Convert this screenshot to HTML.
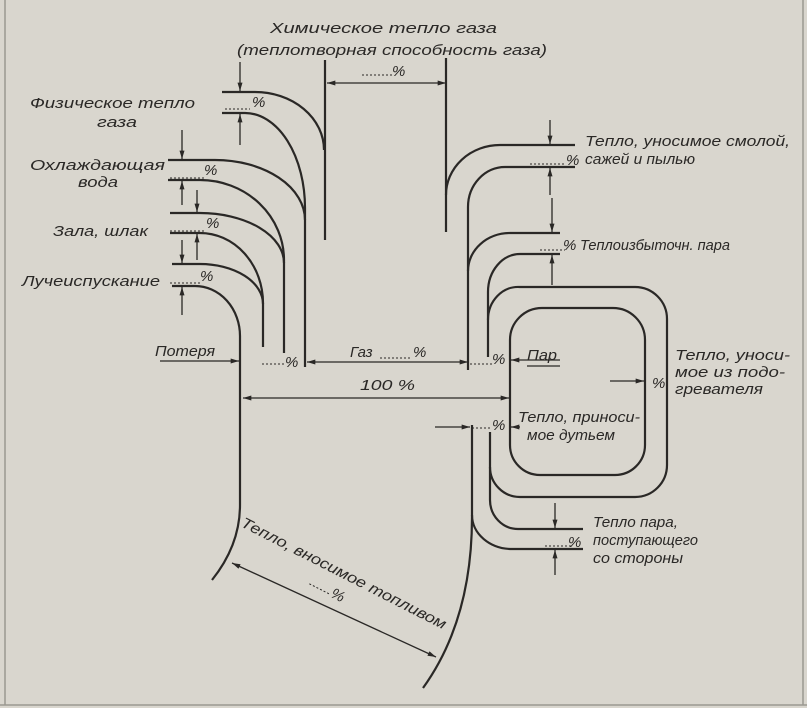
<!DOCTYPE html>
<html><head><meta charset="utf-8"><style>
html,body{margin:0;padding:0;background:#d9d6ce;}
svg{display:block}
text{font-family:"Liberation Sans",sans-serif;font-style:italic;fill:#2a2826;font-size:15px;}
</style></head><body>
<svg width="807" height="708" viewBox="0 0 807 708" xmlns="http://www.w3.org/2000/svg">
<defs>
<marker id="a" viewBox="0 0 10 6" refX="10" refY="3" markerWidth="9" markerHeight="5" orient="auto-start-reverse" markerUnits="userSpaceOnUse"><path d="M0,0 L10,3 L0,6 z" fill="#2a2826"/></marker>
</defs>
<rect width="807" height="708" fill="#d9d6ce"/>
<g stroke="#9a9890" stroke-width="1.5" fill="none">
<line x1="5" y1="0" x2="5" y2="705"/><line x1="803" y1="0" x2="803" y2="705"/><line x1="0" y1="705" x2="807" y2="705"/>
</g>
<g stroke="#2a2826" stroke-width="2.2" fill="none">
<!-- chemical -->
<line x1="325" y1="60" x2="325" y2="240"/>
<line x1="446" y1="58" x2="446" y2="232"/>
<!-- left streams -->
<path d="M222,92 H255 A69,58 0 0 1 324,150"/>
<path d="M222,113 H245 A60,95 0 0 1 305,208 V367"/>
<path d="M168,160 H215 A90,60 0 0 1 305,220"/>
<path d="M168,180 H200 A84,80 0 0 1 284,260 V353"/>
<path d="M170,213 H200 A84,50 0 0 1 284,263"/>
<path d="M170,233 H200 A63,70 0 0 1 263,303 V347"/>
<path d="M172,264 H200 A63,40 0 0 1 263,304"/>
<path d="M172,286 H195 A45,50 0 0 1 240,336 V505 Q240,545 212,580"/>
<!-- right streams -->
<path d="M575,145 H500 A54,50 0 0 0 446,195"/>
<path d="M575,167 H505 A37,40 0 0 0 468,207 V370"/>
<path d="M560,233 H510 A42,38 0 0 0 468,271"/>
<path d="M560,254 H520 A32,38 0 0 0 488,292 V357"/>
<!-- boiler -->
<path d="M488,320 A30,33 0 0 1 520,287 H635 A32,32 0 0 1 667,319 V465 A32,32 0 0 1 635,497 H520 A30,30 0 0 1 490,467 V432"/>
<path d="M510,340 A32,32 0 0 1 542,308 H613 A32,32 0 0 1 645,340 V445 A30,30 0 0 1 615,475 H540 A30,30 0 0 1 510,445 Z"/>
<path d="M490,467 V500 A28,29 0 0 0 518,529 H583"/>
<path d="M472,515 A40,34 0 0 0 512,549 H583"/>
<path d="M472,425 V517 Q472,620 423,688"/>
</g>
<g stroke="#2a2826" stroke-width="1.3" fill="none">
<line x1="446" y1="83" x2="327" y2="83" marker-end="url(#a)" marker-start="url(#a)"/>
<line x1="240" y1="62" x2="240" y2="91" marker-end="url(#a)"/><line x1="240" y1="145" x2="240" y2="114" marker-end="url(#a)"/>
<line x1="182" y1="130" x2="182" y2="159" marker-end="url(#a)"/><line x1="182" y1="205" x2="182" y2="181" marker-end="url(#a)"/>
<line x1="197" y1="190" x2="197" y2="212" marker-end="url(#a)"/><line x1="197" y1="260" x2="197" y2="234" marker-end="url(#a)"/>
<line x1="182" y1="240" x2="182" y2="263" marker-end="url(#a)"/><line x1="182" y1="315" x2="182" y2="287" marker-end="url(#a)"/>
<line x1="550" y1="120" x2="550" y2="144" marker-end="url(#a)"/><line x1="550" y1="195" x2="550" y2="168" marker-end="url(#a)"/>
<line x1="552" y1="198" x2="552" y2="232" marker-end="url(#a)"/><line x1="552" y1="285" x2="552" y2="255" marker-end="url(#a)"/>
<line x1="555" y1="503" x2="555" y2="528" marker-end="url(#a)"/><line x1="555" y1="575" x2="555" y2="550" marker-end="url(#a)"/>
<line x1="160" y1="361" x2="239" y2="361" marker-end="url(#a)"/>
<line x1="307" y1="362" x2="468" y2="362" marker-end="url(#a)" marker-start="url(#a)"/>
<line x1="243" y1="398" x2="509" y2="398" marker-end="url(#a)" marker-start="url(#a)"/>
<line x1="560" y1="360" x2="511" y2="360" marker-end="url(#a)"/>
<line x1="610" y1="381" x2="644" y2="381" marker-end="url(#a)"/>
<line x1="435" y1="427" x2="470" y2="427" marker-end="url(#a)"/>
<line x1="520" y1="427" x2="511" y2="427" marker-end="url(#a)"/>
<line x1="232" y1="563" x2="436" y2="657" marker-end="url(#a)" marker-start="url(#a)"/>
<line x1="527" y1="366" x2="560" y2="366"/>
</g>
<g stroke="#2a2826" stroke-width="1" stroke-dasharray="2,2">
<line x1="362" y1="75" x2="392" y2="75"/>
<line x1="225" y1="109" x2="250" y2="109"/>
<line x1="170" y1="178" x2="205" y2="178"/>
<line x1="170" y1="231" x2="205" y2="231"/>
<line x1="170" y1="283" x2="200" y2="283"/>
<line x1="262" y1="364" x2="285" y2="364"/>
<line x1="380" y1="358" x2="412" y2="358"/>
<line x1="530" y1="164" x2="565" y2="164"/>
<line x1="540" y1="250" x2="565" y2="250"/>
<line x1="470" y1="364" x2="492" y2="364"/>
<line x1="472" y1="428" x2="492" y2="428"/>
<line x1="545" y1="546" x2="572" y2="546"/>
</g>
<text x="270" y="33" textLength="227" lengthAdjust="spacingAndGlyphs" font-size="16">Химическое тепло газа</text>
<text x="237" y="55" textLength="310" lengthAdjust="spacingAndGlyphs" font-size="16">(теплотворная способность газа)</text>
<text x="392" y="76">%</text>
<text x="30" y="108" textLength="165" lengthAdjust="spacingAndGlyphs">Физическое тепло</text>
<text x="97" y="127" textLength="40" lengthAdjust="spacingAndGlyphs">газа</text>
<text x="30" y="170" textLength="135" lengthAdjust="spacingAndGlyphs">Охлаждающая</text>
<text x="78" y="187" textLength="40" lengthAdjust="spacingAndGlyphs">вода</text>
<text x="53" y="236" textLength="95" lengthAdjust="spacingAndGlyphs">Зала, шлак</text>
<text x="22" y="286" textLength="138" lengthAdjust="spacingAndGlyphs">Лучеиспускание</text>
<text x="252" y="107" font-size="16">%</text>
<text x="204" y="175" font-size="16">%</text>
<text x="206" y="228" font-size="16">%</text>
<text x="200" y="281" font-size="16">%</text>
<text x="155" y="356" textLength="60" lengthAdjust="spacingAndGlyphs">Потеря</text>
<text x="285" y="367" font-size="16">%</text>
<text x="350" y="357">Газ</text><text x="413" y="357" font-size="16">%</text>
<text x="360" y="390" textLength="55" lengthAdjust="spacingAndGlyphs" font-size="16">100 %</text>
<text x="566" y="165" font-size="16">%</text>
<text x="585" y="146" textLength="205" lengthAdjust="spacingAndGlyphs">Тепло, уносимое смолой,</text>
<text x="585" y="164" textLength="110" lengthAdjust="spacingAndGlyphs">сажей и пылью</text>
<text x="563" y="250" font-size="16">%</text>
<text x="580" y="250" textLength="150" lengthAdjust="spacingAndGlyphs">Теплоизбыточн. пара</text>
<text x="492" y="364" font-size="16">%</text>
<text x="527" y="360" textLength="30" lengthAdjust="spacingAndGlyphs">Пар</text>
<text x="675" y="360" textLength="115" lengthAdjust="spacingAndGlyphs">Тепло, уноси-</text>
<text x="675" y="377" textLength="110" lengthAdjust="spacingAndGlyphs">мое из подо-</text>
<text x="675" y="394" textLength="88" lengthAdjust="spacingAndGlyphs">гревателя</text>
<text x="652" y="388" font-size="16">%</text>
<text x="492" y="430" font-size="16">%</text>
<text x="518" y="422" textLength="122" lengthAdjust="spacingAndGlyphs">Тепло, приноси-</text>
<text x="527" y="440" textLength="88" lengthAdjust="spacingAndGlyphs">мое дутьем</text>
<text x="568" y="547" font-size="16">%</text>
<text x="593" y="527" textLength="85" lengthAdjust="spacingAndGlyphs">Тепло пара,</text>
<text x="593" y="545" textLength="105" lengthAdjust="spacingAndGlyphs">поступающего</text>
<text x="593" y="563" textLength="90" lengthAdjust="spacingAndGlyphs">со стороны</text>
<g transform="translate(240,526) rotate(27)">
<text x="0" y="0" textLength="228" lengthAdjust="spacingAndGlyphs">Тепло, вносимое топливом</text>
<line x1="88" y1="20" x2="112" y2="20" stroke="#2a2826" stroke-width="1" stroke-dasharray="2,2"/>
<text x="112" y="22">%</text>
</g>
</svg>
</body></html>
